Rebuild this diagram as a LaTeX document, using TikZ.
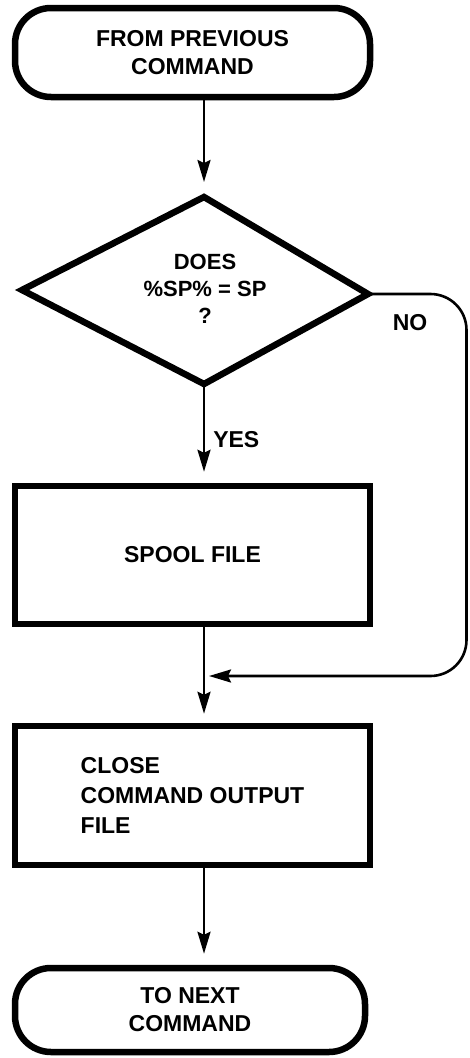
\documentclass[tikz,border=0pt]{standalone}
\usepackage{fontspec}
\setmainfont{Liberation Sans}
\usetikzlibrary{arrows.meta}

\begin{document}
\begin{tikzpicture}[x=1pt,y=-1pt,line width=2.6pt,>={Stealth[length=22pt,width=13pt,inset=3pt]},
  every node/.style={font=\bfseries\fontsize{23}{28}\selectfont},
  term/.style={draw,line width=6.5pt,rounded corners=36pt,minimum width=355pt,align=center,inner sep=0pt},
  procbox/.style={draw,line width=6.5pt,minimum width=355pt,inner sep=0pt},
  flow/.style={->,shorten >=11pt}]
  \useasboundingbox (0,0) rectangle (469,1058);
  % start
  \node[term,minimum height=89pt] (start) at (192.5,52.5) {FROM PREVIOUS\\COMMAND};
  % decision
  \coordinate (dtop) at (204,197); \coordinate (dright) at (368,294);
  \coordinate (dbot) at (204,384); \coordinate (dleft) at (22,290);
  \draw[line width=6.5pt] (dtop) -- (dright) -- (dbot) -- (dleft) -- cycle;
  \node[align=center,font=\bfseries\fontsize{22}{27}\selectfont] (dec) at (205,289) {DOES\\\%SP\% = SP\\?};
  % spool
  \node[procbox,minimum height=138pt] (spool) at (192.5,555) {SPOOL FILE};
  % close
  \node[procbox,minimum height=139pt,align=left,font=\bfseries\fontsize{23}{30}\selectfont] (close) at (192.5,795.5) {CLOSE\\COMMAND OUTPUT\\FILE};
  % stop
  \node[term,minimum height=84pt,minimum width=350pt] (stop) at (190,1010) {TO NEXT\\COMMAND};
  % flechas
  \coordinate (spine) at (204,0);
  \coordinate (rail) at (466.5,0);
  \coordinate (join) at (209,676);
  \draw[flow,shorten >=15pt] (start.south -| spine) -- (dtop);
  \draw[flow] (dbot) -- (spool.north -| spine);
  \draw[flow,shorten >=9pt] (spool.south -| spine) -- (close.north -| spine);
  \draw[flow] (close.south -| spine) -- (stop.north -| spine);
  \draw[->,rounded corners=36pt] (dright) -- (dright -| rail) -- (join -| rail) -- (join);
  \node[anchor=west,inner sep=0pt] (yes) at (212,440) {YES};
  \node (no) at (410,323) {NO};
\end{tikzpicture}
\end{document}
